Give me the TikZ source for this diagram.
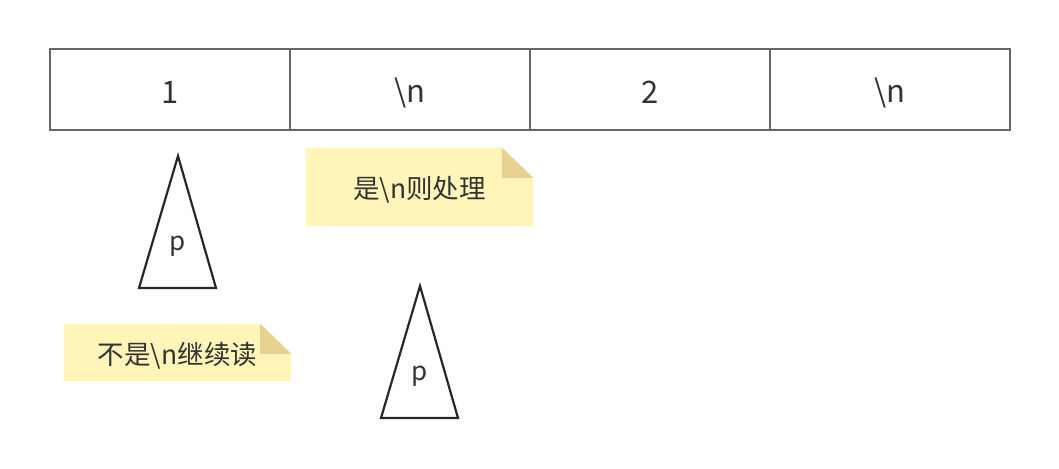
\documentclass[tikz,border=0pt]{standalone}
\usepackage{fontspec}
\setmainfont{Noto Sans CJK SC}
\usetikzlibrary{positioning, backgrounds}

\definecolor{gridline}{HTML}{666666}
\definecolor{notefill}{HTML}{FFF5B8}
\definecolor{notefold}{HTML}{E8D291}
\definecolor{textgray}{HTML}{333333}
\definecolor{pointer}{HTML}{23272E}

\newcommand{\lowered}[1]{\raisebox{-3pt}[\height][\depth]{#1}}

\begin{document}
\begin{tikzpicture}[x=1pt, y=-1pt, node distance=240pt, on grid,
    cell/.style={draw=gridline, line width=2pt, minimum width=240pt,
                 minimum height=81pt, inner sep=0pt, text=textgray,
                 font=\fontsize{31}{34}\selectfont},
    note/.style={minimum width=227pt, inner sep=0pt, text=textgray,
                 font=\fontsize{26.5}{30}\selectfont},
    pointer/.style={draw=pointer, line width=2.2pt, line join=miter},
    plabel/.style={text=textgray, font=\fontsize{26}{28}\selectfont}]
    \useasboundingbox (0,0) rectangle (1059,468);

    % the buffer
    \node[cell] (c_1) at (170,89.5) {\lowered{1}};
    \node[cell] (c_2) [right=of c_1] {\lowered{\textbackslash n}};
    \node[cell] (c_3) [right=of c_2] {\lowered{2}};
    \node[cell] (c_4) [right=of c_3] {\lowered{\textbackslash n}};

    % notes
    \node[note, minimum height=78pt] (yes) at (419.5,187) {\lowered{是\textbackslash n则处理}};
    \node[note, minimum height=57pt] (no) at (177.5,352.5) {\lowered{不是\textbackslash n继续读}};
    \begin{scope}[on background layer]
        \foreach \n in {yes, no} {
            \fill[notefill] (\n.south west) |- ([xshift=-31pt]\n.north east)
                -- ([yshift=-30pt]\n.north east) |- cycle;
            \fill[notefold] ([xshift=-31pt]\n.north east)
                -- ([yshift=-30pt]\n.north east) -| cycle;
        }
    \end{scope}

    % pointers
    \draw[pointer] (178,156) -- (216,288) -- (139,288) -- cycle;
    \node[plabel] (p_1) at (178,243) {\lowered{p}};
    \draw[pointer] (420,286) -- (458,418) -- (381,418) -- cycle;
    \node[plabel] (p_2) at (420,373) {\lowered{p}};
\end{tikzpicture}
\end{document}
